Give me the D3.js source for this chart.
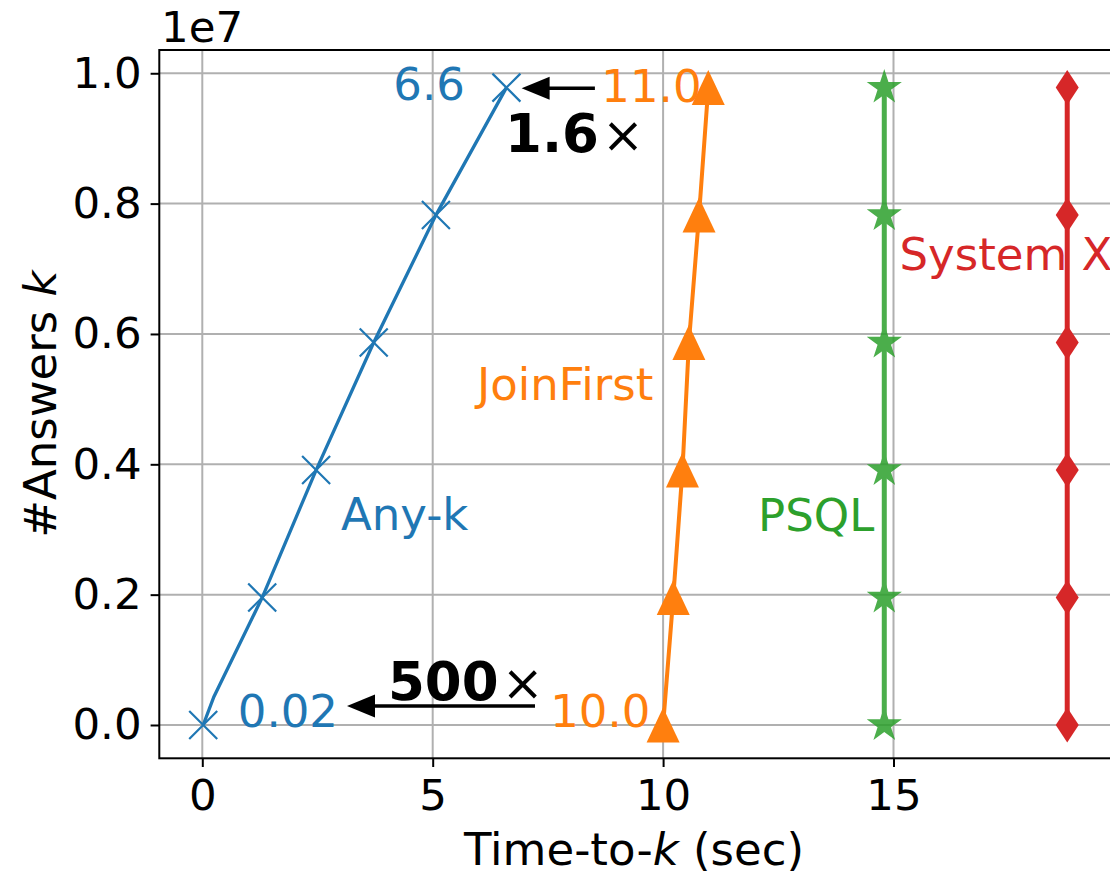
<!DOCTYPE html>
<html>
<head>
<meta charset="utf-8">
<script src="https://cdn.jsdelivr.net/npm/d3@7"></script>
<style>
  body { margin: 0; background: #fff; }
  svg { display: block; font-family: "DejaVu Sans", sans-serif; }
</style>
</head>
<body>
<svg id="chart" width="1110" height="873"></svg>
<script>
// #answers k (in units of 1e7) at each marker
const answers = [0, 0.1956, 0.3912, 0.5868, 0.7824, 0.978];

// time-to-k (sec) per system
const anyKLine = [[0.02, 0], [0.25, 0.043], [1.3, 0.1956], [2.47, 0.3912], [3.72, 0.5868], [5.07, 0.7824], [6.6, 0.978]];
const anyKTimes = [0.02, 1.3, 2.47, 3.72, 5.07, 6.6];
const joinFirstTimes = [10.0, 10.22, 10.42, 10.56, 10.78, 10.98];
const psqlTimes = [14.8, 14.8, 14.8, 14.8, 14.8, 14.8];
const systemXTimes = [18.77, 18.77, 18.77, 18.77, 18.77, 18.77];

const xTicks = [0, 5, 10, 15];
const yTicks = [0, 0.2, 0.4, 0.6, 0.8, 1.0];

// annotations: [x (sec), y (1e7)]
const seriesLabels = [
  { text: "Any-k", x: 3.01, y: 0.299, color: "#1f77b4" },
  { text: "JoinFirst", x: 5.96, y: 0.499, color: "#ff7f0e" },
  { text: "PSQL", x: 12.06, y: 0.298, color: "#2ca02c" },
  { text: "System X", x: 15.13, y: 0.698, color: "#d62728" },
];
const valueLabels = [
  { text: "6.6", x: 5.7, y: 0.959, color: "#1f77b4", anchor: "end" },
  { text: "11.0", x: 8.66, y: 0.956, color: "#ff7f0e", anchor: "start" },
  { text: "0.02", x: 0.77, y: -0.003, color: "#1f77b4", anchor: "start" },
  { text: "10.0", x: 7.55, y: -0.003, color: "#ff7f0e", anchor: "start" },
];
const speedups = [
  { value: "1.6", x: 6.57, y: 0.879 },
  { value: "500", x: 4.03, y: 0.038 },
];
const arrows = [
  { from: [8.52, 0.977], to: [6.93, 0.977] },
  { from: [7.22, 0.029], to: [3.14, 0.029] },
];

const width = 1110;
const height = 873;
const margin = { top: 50, right: -1, bottom: 114.7, left: 159.3 };
const chartWidth = width - margin.left - margin.right;
const chartHeight = height - margin.top - margin.bottom;

const x = d3.scaleLinear().domain([-0.933, 19.72]).range([0, chartWidth]);
const y = d3.scaleLinear().domain([-0.0511, 1.0357]).range([chartHeight, 0]);

const tickFont = 43.5;
const fontSize = 45;

const svgRoot = d3.select("#chart");

const svg = svgRoot
  .append("g")
  .attr("transform", `translate(${margin.left},${margin.top})`);

svg.append("defs")
  .append("clipPath")
  .attr("id", "clip")
  .append("rect")
  .attr("width", chartWidth)
  .attr("height", chartHeight);

// grid
const grid = svg.append("g").attr("id", "grid").attr("clip-path", "url(#clip)");
grid.selectAll("line.vx")
  .data(xTicks)
  .join("line")
  .attr("class", "vx")
  .attr("x1", (d) => x(d))
  .attr("x2", (d) => x(d))
  .attr("y1", 0)
  .attr("y2", chartHeight)
  .attr("stroke", "#b0b0b0")
  .attr("stroke-width", 2);
grid.selectAll("line.hy")
  .data(yTicks)
  .join("line")
  .attr("class", "hy")
  .attr("x1", 0)
  .attr("x2", chartWidth)
  .attr("y1", (d) => y(d))
  .attr("y2", (d) => y(d))
  .attr("stroke", "#b0b0b0")
  .attr("stroke-width", 2);

// axes
const xAxis = (g) =>
  g
    .attr("transform", `translate(0,${chartHeight})`)
    .call(d3.axisBottom(x).tickValues(xTicks).tickSize(8.7).tickPadding(12).tickFormat(d3.format("d")))
    .call((g) => g.select(".domain").remove())
    .call((g) => g.selectAll("line").attr("stroke", "#000").attr("stroke-width", 2))
    .call((g) => g.selectAll("text").attr("font-size", tickFont).attr("fill", "#000").attr("font-family", "DejaVu Sans"));

const yAxis = (g) =>
  g
    .call(d3.axisLeft(y).tickValues(yTicks).tickSize(8.7).tickPadding(9).tickFormat(d3.format(".1f")))
    .call((g) => g.select(".domain").remove())
    .call((g) => g.selectAll("line").attr("stroke", "#000").attr("stroke-width", 2))
    .call((g) => g.selectAll("text").attr("font-size", tickFont).attr("fill", "#000").attr("font-family", "DejaVu Sans"));

svg.append("g").attr("id", "x-axis").call(xAxis);
svg.append("g").attr("id", "y-axis").call(yAxis);

// frame
svg.append("rect")
  .attr("width", chartWidth)
  .attr("height", chartHeight)
  .attr("fill", "none")
  .attr("stroke", "#000")
  .attr("stroke-width", 2);

// axis labels
svgRoot.append("text")
  .attr("x", 161)
  .attr("y", 41.7)
  .attr("font-size", tickFont)
  .text("1e7");

const xLabel = svgRoot.append("text")
  .attr("x", 634)
  .attr("y", 865)
  .attr("text-anchor", "middle")
  .attr("font-size", fontSize);
xLabel.append("tspan").text("Time-to-");
xLabel.append("tspan").attr("font-style", "italic").text("k");
xLabel.append("tspan").text(" (sec)");

const yLabel = svgRoot.append("text")
  .attr("transform", `translate(56,${margin.top + chartHeight / 2}) rotate(-90)`)
  .attr("text-anchor", "middle")
  .attr("font-size", fontSize);
yLabel.append("tspan").text("#Answers ");
yLabel.append("tspan").attr("font-style", "italic").text("k");

// series
const line = d3.line().x((d) => x(d[0])).y((d) => y(d[1]));
const viz = svg.append("g").attr("id", "viz");

const series = [
  { name: "PSQL", times: psqlTimes, color: "#2ca02c", lw: 5, opacity: 0.85, marker: "star" },
  { name: "System X", times: systemXTimes, color: "#d62728", lw: 5, opacity: 1, marker: "diamond" },
  { name: "JoinFirst", times: joinFirstTimes, color: "#ff7f0e", lw: 4, opacity: 1, marker: "triangle" },
];

const markerPath = {
  star: d3.symbol(d3.symbolStar, 384)(),
  diamond: "M0,-17.5L11.5,0L0,17.5L-11.5,0Z",
  triangle: "M0,-17.5L-16.5,17.5L16.5,17.5Z",
};

series.forEach((s) => {
  const g = viz.append("g").attr("opacity", s.opacity);
  const pts = s.times.map((t, i) => [t, answers[i]]);
  g.append("path")
    .attr("d", line(pts))
    .attr("fill", "none")
    .attr("stroke", s.color)
    .attr("stroke-width", s.lw);
  g.selectAll("path.m")
    .data(pts)
    .join("path")
    .attr("class", "m")
    .attr("transform", (d) => `translate(${x(d[0])},${y(d[1])})`)
    .attr("d", markerPath[s.marker])
    .attr("fill", s.color);
});

// Any-k
viz.append("path")
  .attr("d", line(anyKLine))
  .attr("fill", "none")
  .attr("stroke", "#1f77b4")
  .attr("stroke-width", 3.3);
viz.selectAll("path.xm")
  .data(anyKTimes.map((t, i) => [t, answers[i]]))
  .join("path")
  .attr("class", "xm")
  .attr("transform", (d) => `translate(${x(d[0])},${y(d[1])})`)
  .attr("d", "M-14,-14L14,14M-14,14L14,-14")
  .attr("stroke", "#1f77b4")
  .attr("stroke-width", 2.2)
  .attr("fill", "none");

// labels
const labels = svg.append("g").attr("id", "labels");
labels.selectAll("text.series")
  .data(seriesLabels)
  .join("text")
  .attr("class", "series")
  .attr("x", (d) => x(d.x))
  .attr("y", (d) => y(d.y))
  .attr("fill", (d) => d.color)
  .attr("font-size", fontSize)
  .text((d) => d.text);

labels.selectAll("text.value")
  .data(valueLabels)
  .join("text")
  .attr("class", "value")
  .attr("x", (d) => x(d.x))
  .attr("y", (d) => y(d.y))
  .attr("text-anchor", (d) => d.anchor)
  .attr("fill", (d) => d.color)
  .attr("font-size", fontSize)
  .text((d) => d.text);

speedups.forEach((d) => {
  const t = labels.append("text")
    .attr("x", x(d.x))
    .attr("y", y(d.y))
    .attr("fill", "#000");
  t.append("tspan").attr("font-size", 53).attr("font-weight", "bold").text(d.value);
  t.append("tspan").attr("font-size", 50).attr("dx", 3).text("×");
});

// arrows
arrows.forEach((a) => {
  const x0 = x(a.from[0]), y0 = y(a.from[1]);
  const x1 = x(a.to[0]), y1 = y(a.to[1]);
  const headLen = 28, headHalf = 11.5;
  const dir = Math.sign(x1 - x0);
  labels.append("line")
    .attr("x1", x0)
    .attr("y1", y0)
    .attr("x2", x1 - dir * headLen * 0.8)
    .attr("y2", y1)
    .attr("stroke", "#000")
    .attr("stroke-width", 3.5);
  labels.append("path")
    .attr("d", `M${x1},${y1}L${x1 - dir * headLen},${y1 - headHalf}L${x1 - dir * headLen},${y1 + headHalf}Z`)
    .attr("fill", "#000");
});
</script>
</body>
</html>
